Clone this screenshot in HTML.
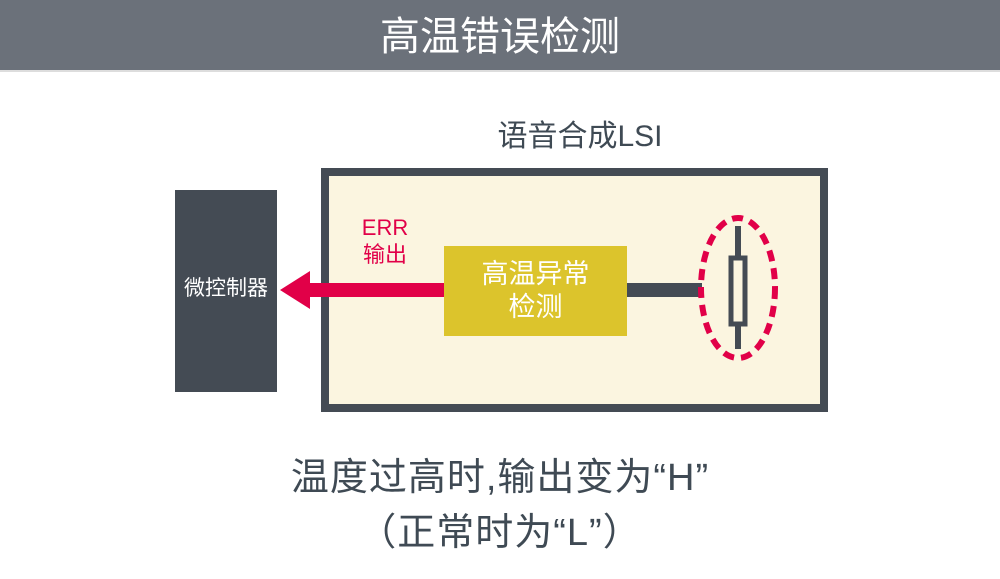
<!DOCTYPE html>
<html><head><meta charset="utf-8"><style>
body{margin:0;width:1000px;height:579px;background:#fff;position:relative;overflow:hidden;font-family:"Liberation Sans","Noto Sans CJK SC",sans-serif}
.a{position:absolute}
</style></head><body>
<div class="a" style="left:0;top:0;width:1000px;height:70px;background:#6b717a"></div>
<div class="a" style="left:0;top:70px;width:1000px;height:2px;background:#ddd"></div>
<div class="a" style="left:0;top:12px;width:1000px;text-align:center;color:#fff;font-size:40px;line-height:50px">高温错误检测</div>
<div class="a" style="left:420px;top:118px;width:320px;text-align:center;color:#3f4a54;font-size:30px;line-height:38px">语音合成LSI</div>
<div class="a" style="left:175px;top:190px;width:102px;height:202px;background:#444b54"></div>
<div class="a" style="left:165px;top:275px;width:122px;text-align:center;color:#fff;font-size:21px;line-height:28px">微控制器</div>
<div class="a" style="left:321px;top:168px;width:491px;height:228px;border:8px solid #444b54;background:#fbf5e0"></div>
<svg class="a" style="left:0;top:0" width="1000" height="579">
<polygon points="444,283 310,283 310,271 280,290 310,309 310,297 444,297" fill="#e10048"/>
<rect x="627" y="283" width="75" height="14" fill="#444b54"/>
<line x1="738" y1="226" x2="738" y2="349" stroke="#444b54" stroke-width="6"/>
<rect x="731" y="258" width="14" height="66" fill="#fbf5e0" stroke="#444b54" stroke-width="5"/>
<ellipse cx="738" cy="288" rx="37" ry="70" fill="none" stroke="#e10048" stroke-width="6" stroke-dasharray="11 7"/>
</svg>
<div class="a" style="left:444px;top:258px;width:183px;height:90px;"></div>
<div class="a" style="left:444px;top:246px;width:183px;height:90px;background:#dcc42c"></div>
<div class="a" style="left:444px;top:258px;width:183px;text-align:center;color:#fff;font-size:27px;line-height:33px">高温异常<br>检测</div>
<div class="a" style="left:345px;top:214px;width:80px;text-align:center;color:#e10048;font-size:22px;line-height:27px">ERR<br>输出</div>
<div class="a" style="left:0;top:455px;width:1000px;text-align:center;color:#3f4a54;font-size:38px;line-height:46px;letter-spacing:1px">温度过高时,输出变为“H”</div>
<div class="a" style="left:0;top:510px;width:1000px;text-align:center;color:#3f4a54;font-size:38px;line-height:46px;letter-spacing:1px">（正常时为“L”）</div>
</body></html>
